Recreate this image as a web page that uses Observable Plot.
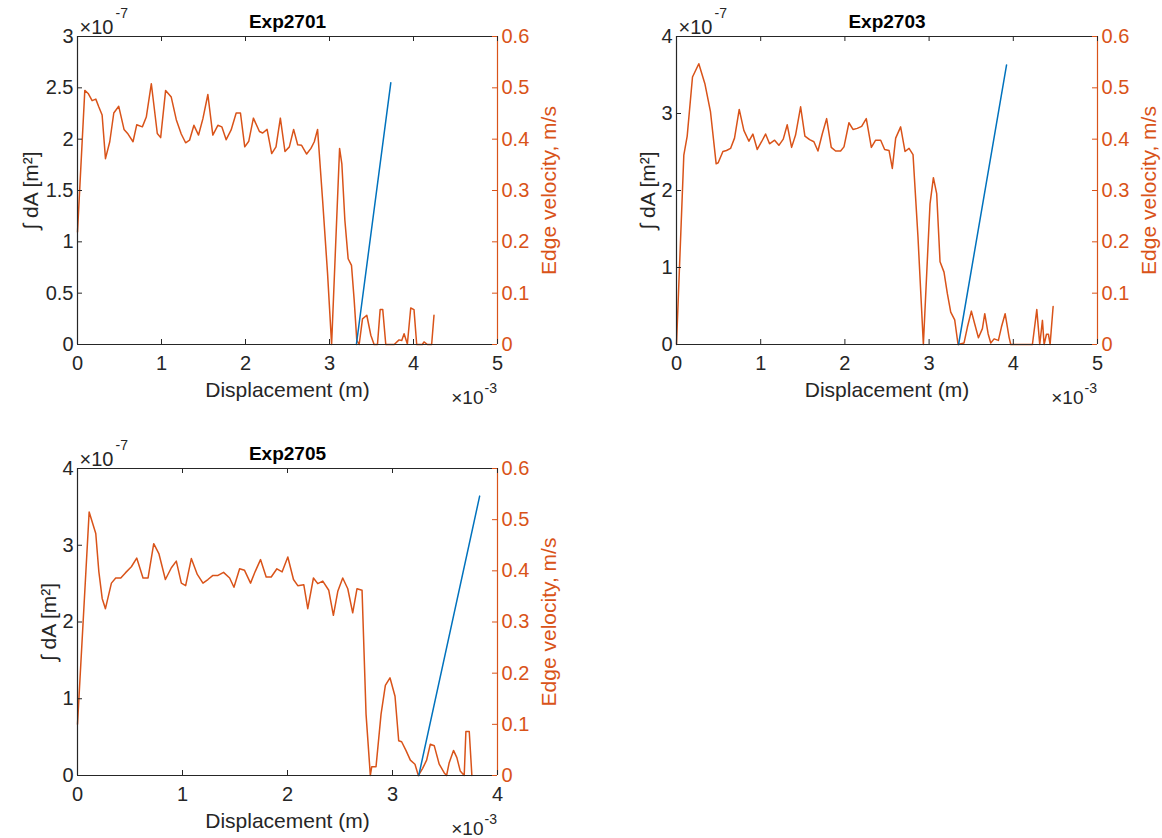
<!DOCTYPE html>
<html><head><meta charset="utf-8">
<script src="https://cdn.jsdelivr.net/npm/d3@7"></script>
<script src="https://cdn.jsdelivr.net/npm/@observablehq/plot@0.6"></script>
<style>
html,body{margin:0;padding:0;background:#fff}
body{width:1162px;height:838px;overflow:hidden;position:relative;font-family:"Liberation Sans",Arial,sans-serif}
.panel{position:absolute}
</style></head><body>
<div id="p1" class="panel" style="left:0;top:0"></div>
<div id="p2" class="panel" style="left:600px;top:0"></div>
<div id="p3" class="panel" style="left:0;top:432px"></div>
<script>
// Displacement in units of 1e-3 m, edge velocity in m/s, integrated area in units of 1e-7 m^2
const exp2701Disp = [0, 0.087, 0.127, 0.174, 0.218, 0.253, 0.293, 0.333, 0.384, 0.432,
  0.491, 0.554, 0.602, 0.661, 0.705, 0.772, 0.819, 0.879, 0.950, 0.990,
  1.049, 1.116, 1.176, 1.235, 1.287, 1.334, 1.386, 1.441, 1.493, 1.552,
  1.611, 1.671, 1.718, 1.770, 1.829, 1.889, 1.940, 1.991, 2.039, 2.094,
  2.166, 2.205, 2.257, 2.312, 2.363, 2.415, 2.470, 2.522, 2.573, 2.621,
  2.668, 2.728, 2.779, 2.819, 2.858, 2.918, 2.977, 3.025, 3.120, 3.147,
  3.183, 3.222, 3.262, 3.294, 3.325, 3.353, 3.393, 3.444, 3.492, 3.531,
  3.571, 3.603, 3.634, 3.670, 3.770, 3.828, 3.860, 3.888, 3.927, 3.967,
  4.006, 4.038, 4.105, 4.125, 4.165, 4.216, 4.244];
const exp2701Vel = [0.219, 0.495, 0.489, 0.475, 0.478, 0.463, 0.447, 0.362, 0.395, 0.451,
  0.464, 0.419, 0.410, 0.395, 0.428, 0.424, 0.443, 0.508, 0.411, 0.403,
  0.495, 0.482, 0.438, 0.410, 0.393, 0.398, 0.427, 0.408, 0.440, 0.487,
  0.408, 0.427, 0.424, 0.399, 0.418, 0.451, 0.451, 0.385, 0.396, 0.441,
  0.415, 0.412, 0.419, 0.372, 0.385, 0.441, 0.376, 0.385, 0.419, 0.389,
  0.388, 0.371, 0.382, 0.395, 0.419, 0.281, 0.138, 0, 0.382, 0.352,
  0.242, 0.167, 0.154, 0.086, 0.008, 0, 0.050, 0.057, 0.018, 0,
  0, 0.068, 0.068, 0, 0, 0.009, 0.008, 0.021, 0.001, 0.071,
  0.068, 0, 0, 0.005, 0, 0, 0.057];
const exp2701AreaDisp = [3.32, 3.73];
const exp2701Area = [0, 2.55];

const exp2703Disp = [0, 0.087, 0.127, 0.190, 0.265, 0.337, 0.404, 0.471, 0.495, 0.551,
  0.594, 0.642, 0.689, 0.745, 0.800, 0.860, 0.907, 0.959, 1.010, 1.058,
  1.105, 1.165, 1.216, 1.268, 1.315, 1.367, 1.414, 1.474, 1.525, 1.581,
  1.632, 1.680, 1.731, 1.783, 1.838, 1.890, 1.949, 1.989, 2.048, 2.096,
  2.147, 2.199, 2.254, 2.314, 2.365, 2.425, 2.472, 2.524, 2.563, 2.603,
  2.662, 2.714, 2.762, 2.809, 2.868, 2.932, 2.979, 3.011, 3.051, 3.090,
  3.130, 3.177, 3.217, 3.257, 3.304, 3.344, 3.415, 3.455, 3.502, 3.542,
  3.586, 3.633, 3.661, 3.701, 3.732, 3.772, 3.823, 3.859, 3.903, 3.950,
  3.970, 4.227, 4.279, 4.314, 4.346, 4.366, 4.394, 4.417, 4.437, 4.473];
const exp2703Vel = [0, 0.369, 0.406, 0.521, 0.547, 0.508, 0.453, 0.352, 0.354, 0.376,
  0.378, 0.382, 0.402, 0.458, 0.417, 0.396, 0.410, 0.380, 0.395, 0.410,
  0.391, 0.398, 0.388, 0.400, 0.428, 0.384, 0.408, 0.463, 0.406, 0.399,
  0.395, 0.377, 0.410, 0.440, 0.384, 0.377, 0.377, 0.385, 0.432, 0.419,
  0.421, 0.425, 0.440, 0.384, 0.398, 0.398, 0.380, 0.378, 0.343, 0.402,
  0.424, 0.376, 0.382, 0.370, 0.209, 0, 0.164, 0.274, 0.325, 0.294,
  0.161, 0.141, 0.099, 0.063, 0.048, 0, 0.003, 0.034, 0.065, 0.040,
  0.013, 0.031, 0.060, 0.021, 0.003, 0.011, 0.008, 0.034, 0.060, 0.014,
  0, 0, 0.068, 0, 0.047, 0, 0.020, 0.020, 0, 0.074];
const exp2703AreaDisp = [3.35, 3.92];
const exp2703Area = [0, 3.63];

const exp2705Disp = [0, 0.054, 0.111, 0.174, 0.203, 0.235, 0.266, 0.323, 0.364, 0.412,
  0.456, 0.513, 0.564, 0.624, 0.672, 0.726, 0.776, 0.837, 0.894, 0.941,
  0.989, 1.030, 1.084, 1.141, 1.195, 1.242, 1.290, 1.338, 1.391, 1.449,
  1.490, 1.544, 1.591, 1.648, 1.693, 1.743, 1.797, 1.845, 1.899, 1.949,
  2.003, 2.057, 2.098, 2.155, 2.193, 2.247, 2.288, 2.336, 2.393, 2.437,
  2.479, 2.526, 2.574, 2.621, 2.662, 2.710, 2.748, 2.789, 2.802, 2.843,
  2.891, 2.932, 2.976, 3.024, 3.059, 3.087, 3.128, 3.170, 3.214, 3.246,
  3.287, 3.325, 3.360, 3.398, 3.445, 3.493, 3.515, 3.540, 3.581, 3.613,
  3.645, 3.683, 3.699, 3.731, 3.756];
const exp2705Vel = [0.100, 0.302, 0.515, 0.473, 0.399, 0.346, 0.326, 0.376, 0.386, 0.386,
  0.396, 0.408, 0.425, 0.386, 0.386, 0.453, 0.433, 0.383, 0.406, 0.419,
  0.376, 0.371, 0.424, 0.393, 0.376, 0.383, 0.391, 0.391, 0.397, 0.386,
  0.368, 0.404, 0.401, 0.376, 0.399, 0.422, 0.388, 0.388, 0.404, 0.398,
  0.427, 0.383, 0.371, 0.373, 0.326, 0.386, 0.375, 0.380, 0.362, 0.313,
  0.360, 0.386, 0.365, 0.318, 0.365, 0.362, 0.120, 0, 0.017, 0.017,
  0.120, 0.176, 0.191, 0.155, 0.068, 0.066, 0.049, 0.030, 0.022, 0,
  0.014, 0.030, 0.061, 0.058, 0.022, 0.005, 0, 0.025, 0.049, 0.035,
  0.009, 0, 0.086, 0.086, 0];
const exp2705AreaDisp = [3.25, 3.83];
const exp2705Area = [0, 3.64];

const titles = ["Exp2701", "Exp2703", "Exp2705"];
const xTicks5 = [0, 1, 2, 3, 4, 5];
const xTicks4 = [0, 1, 2, 3, 4];
const yTicks3 = [0, 0.5, 1, 1.5, 2, 2.5, 3];
const yTicks4 = [0, 1, 2, 3, 4];
const velTicks = [0, 0.1, 0.2, 0.3, 0.4, 0.5, 0.6];
const xLabel = "Displacement (m)";
const yLabel = "\u222B dA [m\u00B2]";
const vLabel = "Edge velocity, m/s";
const xExp = "-3";
const yExp = "-7";

const ink = "#262626";
const orange = "#D95319";
const blue = "#0072BD";
const font = "Liberation Sans, Arial, Helvetica, sans-serif";

function panel(o) {
  const k = o.yMax / 0.6;
  const plotW = o.width - o.ml - o.mr;
  const plotH = o.height - o.mt - o.mb;
  const velData = o.disp.map((x, i) => ({x, v: o.vel[i]}));
  const areaData = o.areaDisp.map((x, i) => ({x, a: o.area[i]}));
  const fmtV = d => String(+(d / k).toFixed(1));
  return Plot.plot({
    width: o.width, height: o.height,
    marginTop: o.mt, marginRight: o.mr, marginBottom: o.mb, marginLeft: o.ml,
    style: {fontFamily: font, fontSize: "20px", color: ink, background: "white", overflow: "visible"},
    x: {domain: [0, o.xMax]},
    y: {domain: [0, o.yMax]},
    marks: [
      Plot.line(velData, {x: "x", y: d => d.v * k, stroke: orange, strokeWidth: 1.5}),
      Plot.line(areaData, {x: "x", y: "a", stroke: blue, strokeWidth: 1.5}),
      Plot.ruleY([0, o.yMax], {stroke: ink, strokeWidth: 1.2}),
      Plot.ruleX([0], {stroke: ink, strokeWidth: 1.2}),
      Plot.ruleX([o.xMax], {stroke: orange, strokeWidth: 1.2}),
      Plot.tickX(o.xTicks, {x: d => d, stroke: ink, insetTop: plotH - 5}),
      Plot.tickX(o.xTicks, {x: d => d, stroke: ink, insetBottom: plotH - 5}),
      Plot.tickY(o.yTicks, {y: d => d, stroke: ink, insetRight: plotW - 5}),
      Plot.tickY(velTicks, {y: d => d * k, stroke: orange, insetLeft: plotW - 5}),
      Plot.axisX(o.xTicks, {tickSize: 0, tickPadding: 11, fontSize: 20, label: null}),
      Plot.axisY(o.yTicks, {anchor: "left", tickSize: 0, tickPadding: 4, fontSize: 20, label: null, tickFormat: d => String(d)}),
      Plot.axisY(velTicks.map(v => v * k), {anchor: "right", tickSize: 0, tickPadding: 4, fontSize: 20, fill: orange, label: null, tickFormat: fmtV}),
      Plot.text([o.title], {frameAnchor: "top", dy: -22, fontWeight: "bold", fontSize: 19, fill: "#000"}),
      Plot.text(["\u00D710"], {frameAnchor: "top-left", dx: 2, dy: -17, textAnchor: "start", fontSize: 20}),
      Plot.text([yExp], {frameAnchor: "top-left", dx: 38, dy: -28, textAnchor: "start", fontSize: 14}),
      Plot.text([xLabel], {frameAnchor: "bottom", dy: 52, textAnchor: "middle", fontSize: 21}),
      Plot.text(["\u00D710"], {frameAnchor: "bottom-right", dx: -14, dy: 59, textAnchor: "end", fontSize: 19}),
      Plot.text([xExp], {frameAnchor: "bottom-right", dx: -13, dy: 48, textAnchor: "start", fontSize: 14}),
      Plot.text([yLabel], {frameAnchor: "left", dx: o.yLabelDx, rotate: -90, textAnchor: "middle", fontSize: 21}),
      Plot.text([vLabel], {frameAnchor: "right", dx: 52, rotate: -90, textAnchor: "middle", fontSize: 21, fill: orange})
    ]
  });
}

document.getElementById("p1").append(panel({
  title: titles[0], disp: exp2701Disp, vel: exp2701Vel, areaDisp: exp2701AreaDisp, area: exp2701Area,
  xMax: 5, xTicks: xTicks5, yMax: 3, yTicks: yTicks3, yLabelDx: -46,
  width: 590, height: 420, ml: 77, mt: 36, mr: 93, mb: 76
}));
document.getElementById("p2").append(panel({
  title: titles[1], disp: exp2703Disp, vel: exp2703Vel, areaDisp: exp2703AreaDisp, area: exp2703Area,
  xMax: 5, xTicks: xTicks5, yMax: 4, yTicks: yTicks4, yLabelDx: -28,
  width: 562, height: 420, ml: 76, mt: 36, mr: 65, mb: 76
}));
document.getElementById("p3").append(panel({
  title: titles[2], disp: exp2705Disp, vel: exp2705Vel, areaDisp: exp2705AreaDisp, area: exp2705Area,
  xMax: 4, xTicks: xTicks4, yMax: 4, yTicks: yTicks4, yLabelDx: -28,
  width: 590, height: 406, ml: 77, mt: 36, mr: 93, mb: 63
}));
</script>
</body></html>
